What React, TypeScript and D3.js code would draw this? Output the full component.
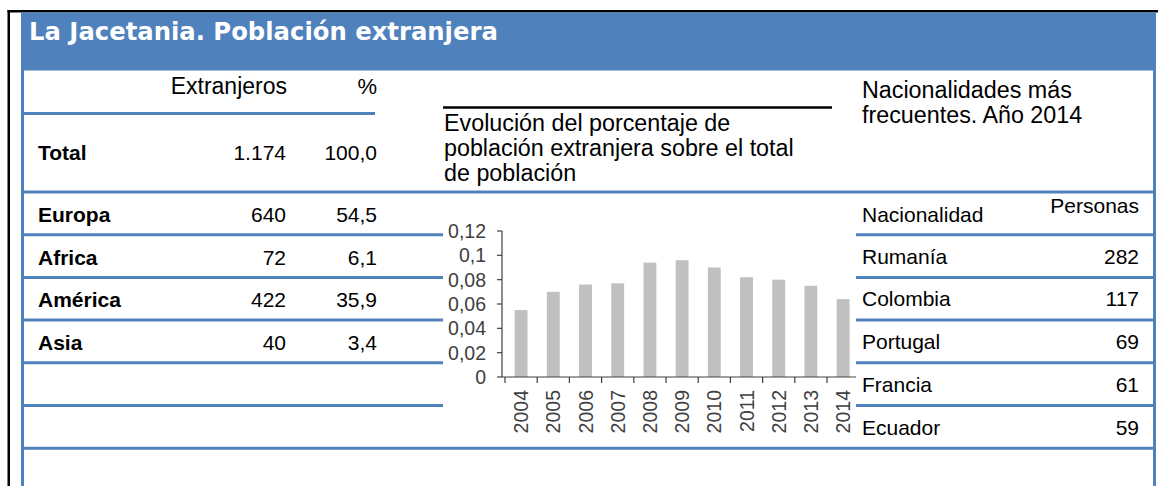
import * as d3 from "d3";

const years = ["2004", "2005", "2006", "2007", "2008", "2009", "2010", "2011", "2012", "2013", "2014"];
const foreignShare = [0.055, 0.07, 0.076, 0.077, 0.094, 0.096, 0.09, 0.082, 0.08, 0.075, 0.064];
const yTicks = [0, 0.02, 0.04, 0.06, 0.08, 0.1, 0.12];

const regions = ["Europa", "Africa", "América", "Asia"];
const regionCounts = [640, 72, 422, 40];
const regionPct = [54.5, 6.1, 35.9, 3.4];
const totalCount = 1174;
const totalPct = 100.0;

const nationalities = ["Rumanía", "Colombia", "Portugal", "Francia", "Ecuador"];
const nationalityCounts = [282, 117, 69, 61, 59];

const es = d3.formatLocale({ decimal: ",", thousands: ".", grouping: [3], currency: ["", " €"] });
const fmtInt = es.format(",d");
const fmtPct = es.format(".1f");
const fmtTick = es.format(".2~f");

const BLUE = "#4F81BD";
const SANS = "'Liberation Sans', Arial, sans-serif";

export default function App() {
  const W = 1158;
  const H = 486;

  // table rows: first full-width line at 192, row height ~42.7
  const rowY = d3.scaleLinear().domain([0, 1]).range([192, 234.7]);
  const rowLines = d3.range(1, 6).map((i) => rowY(i));

  // bar chart
  const x = d3.scaleBand<string>().domain(years).range([505, 859.2]).padding(0);
  const y = d3.scaleLinear().domain([0, 0.12]).range([377, 231]);
  const barW = x.bandwidth() * 0.4;

  return (
    <svg width={W} height={H} style={{ position: "absolute", left: 0, top: 0 }} fontFamily={SANS}>
      <rect x={0} y={0} width={W} height={H} fill="#fff" />
      {/* outer black frame */}
      <rect x={7.5} y={10} width={2.5} height={H - 10} fill="#000" />
      <rect x={7.5} y={10} width={W - 7.5} height={2.5} fill="#000" />

      {/* header */}
      <rect x={21} y={12.5} width={1135} height={58} fill={BLUE} />
      <text x={29} y={40} fill="#fff" fontFamily="'DejaVu Sans', Verdana, sans-serif" fontWeight="bold" fontSize={24.3}>
        La Jacetania. Población extranjera
      </text>

      {/* side borders */}
      <rect x={21} y={70} width={3} height={H - 70} fill={BLUE} />
      <rect x={1153} y={70} width={3} height={H - 70} fill={BLUE} />

      {/* horizontal rules */}
      <line x1={22} x2={375} y1={113.5} y2={113.5} stroke={BLUE} strokeWidth={3} />
      <line x1={22} x2={1156} y1={rowY(0)} y2={rowY(0)} stroke={BLUE} strokeWidth={3} />
      <line x1={22} x2={1156} y1={rowY(6)} y2={rowY(6)} stroke={BLUE} strokeWidth={3} />
      {rowLines.map((ly, i) => (
        <g key={i}>
          <line x1={22} x2={443} y1={ly} y2={ly} stroke={BLUE} strokeWidth={3} />
          <line x1={856} x2={1156} y1={ly} y2={ly} stroke={BLUE} strokeWidth={3} />
        </g>
      ))}

      {/* left table */}
      <g fontSize={21} fill="#000">
        <text x={287} y={94} textAnchor="end" fontSize={23}>Extranjeros</text>
        <text x={377} y={94} textAnchor="end" fontSize={22}>%</text>
        <text x={38} y={160} fontWeight="bold">Total</text>
        <text x={286} y={160} textAnchor="end">{fmtInt(totalCount)}</text>
        <text x={377} y={160} textAnchor="end">{fmtPct(totalPct)}</text>
        {regions.map((r, i) => (
          <g key={r}>
            <text x={38} y={rowY(i) + 30} fontWeight="bold">{r}</text>
            <text x={286} y={rowY(i) + 30} textAnchor="end">{fmtInt(regionCounts[i])}</text>
            <text x={377} y={rowY(i) + 30} textAnchor="end">{fmtPct(regionPct[i])}</text>
          </g>
        ))}
      </g>

      {/* chart title */}
      <line x1={443} x2={832} y1={107.5} y2={107.5} stroke="#000" strokeWidth={2.5} />
      <g fontSize={23.3} fill="#000">
        <text x={444} y={131}>Evolución del porcentaje de</text>
        <text x={444} y={156}>población extranjera sobre el total</text>
        <text x={444} y={181}>de población</text>
      </g>

      {/* bars */}
      <g>
        {years.map((yr, i) => (
          <rect
            key={yr}
            x={(x(yr) as number) + x.bandwidth() / 2 - barW / 2}
            y={y(foreignShare[i])}
            width={barW}
            height={y(0) - y(foreignShare[i])}
            fill="#C0C0C0"
          />
        ))}
      </g>

      {/* axes */}
      <g stroke="#404040" strokeWidth={1.2}>
        <line x1={502} x2={502} y1={y(0.12)} y2={y(0)} />
        {yTicks.map((t) => (
          <line key={t} x1={497} x2={502} y1={y(t)} y2={y(t)} />
        ))}
        <line x1={502} x2={856} y1={y(0)} y2={y(0)} />
        {years.map((yr) => (
          <line key={yr} x1={x(yr) as number} x2={x(yr) as number} y1={y(0)} y2={y(0) + 6} />
        ))}
      </g>
      <g fontSize={19.5} fill="#404040">
        {yTicks.map((t) => (
          <text key={t} x={486} y={y(t)} dy="0.36em" textAnchor="end">
            {fmtTick(t)}
          </text>
        ))}
        {years.map((yr) => (
          <text
            key={yr}
            transform={`translate(${(x(yr) as number) + x.bandwidth() / 2},390) rotate(-90)`}
            textAnchor="end"
            dy="0.36em"
          >
            {yr}
          </text>
        ))}
      </g>

      {/* right table */}
      <g fontSize={23.3} fill="#000">
        <text x={862} y={98}>Nacionalidades más</text>
        <text x={862} y={123}>frecuentes. Año 2014</text>
      </g>
      <g fontSize={21} fill="#000">
        <text x={862} y={222}>Nacionalidad</text>
        <text x={1139} y={213} textAnchor="end">Personas</text>
        {nationalities.map((n, i) => (
          <g key={n}>
            <text x={862} y={rowY(i + 1) + 29}>{n}</text>
            <text x={1139} y={rowY(i + 1) + 29} textAnchor="end">{fmtInt(nationalityCounts[i])}</text>
          </g>
        ))}
      </g>
    </svg>
  );
}
